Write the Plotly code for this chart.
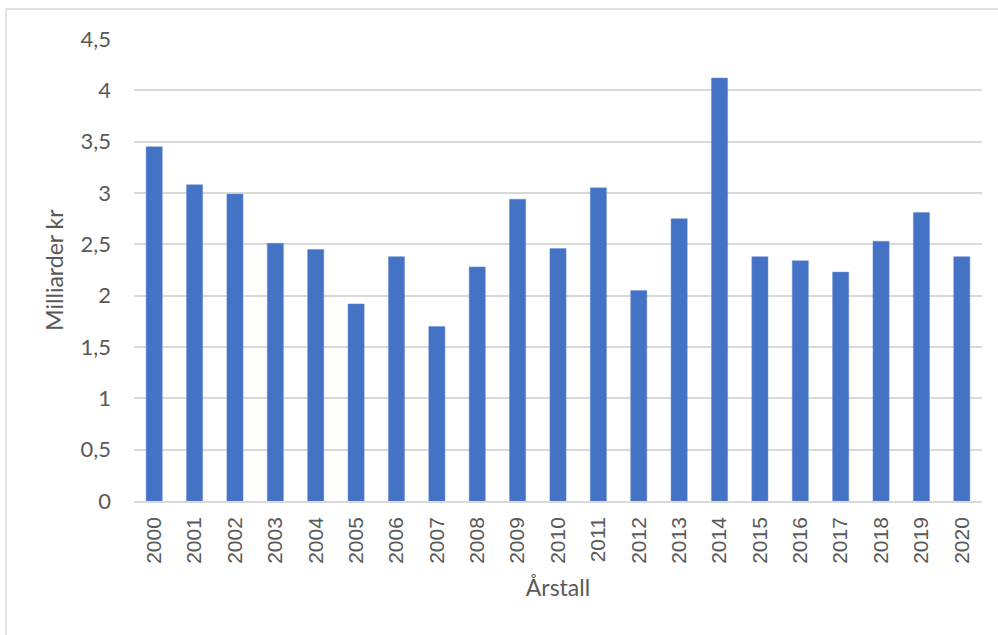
import plotly.graph_objects as go

years = [str(y) for y in range(2000, 2021)]
values = [3.45, 3.08, 2.99, 2.51, 2.45, 1.92, 2.38, 1.70, 2.28, 2.94, 2.46,
          3.05, 2.05, 2.75, 4.12, 2.38, 2.34, 2.23, 2.53, 2.81, 2.38]
y_tickvals = [0, 0.5, 1, 1.5, 2, 2.5, 3, 3.5, 4, 4.5]
y_ticktext = ["0", "0,5", "1", "1,5", "2", "2,5", "3", "3,5", "4", "4,5"]

grey = "#595959"
grid = "#d9d9d9"

fig = go.Figure(go.Bar(x=years, y=values, marker=dict(color="#4472C4",
                                                      line=dict(color="#6a8fd6", width=0.5))))

W, H = 998, 635
L, R, T, B = 134, 16, 39, 134
pw, ph = W - L - R, H - T - B

fig.update_layout(
    width=W, height=H,
    margin=dict(l=L, r=R, t=T, b=B, pad=0, autoexpand=False),
    paper_bgcolor="white", plot_bgcolor="white",
    bargap=0.6,
    showlegend=False,
    font=dict(family="Lato", color=grey),
    xaxis=dict(
        type="category",
        automargin=False,
        tickangle=-90,
        tickfont=dict(family="Liberation Sans", size=21, color=grey),
        showgrid=False,
        showline=True, linecolor=grid, linewidth=1.5,
        ticks="", ticklabelstandoff=6,
        title=dict(text="Årstall", font=dict(family="Lato", size=23, color=grey), standoff=17),
    ),
    yaxis=dict(
        range=[0, 4.5],
        automargin=False,
        tickvals=y_tickvals, ticktext=y_ticktext,
        tickfont=dict(family="Lato", size=22, color=grey),
        showgrid=True, gridcolor=grid, gridwidth=1.5,
        zeroline=False,
        showline=False,
        ticks="", ticklabelstandoff=22,
        title=dict(text="Milliarder kr", font=dict(family="Lato", size=23, color=grey), standoff=10),
    ),
    shapes=[dict(type="rect", xref="paper", yref="paper",
                 x0=(6 - L) / pw, x1=(W + 5 - L) / pw,
                 y0=-(H + 5 - (H - B)) / ph, y1=(H - B - 9) / ph,
                 line=dict(color=grid, width=1.5), fillcolor="rgba(0,0,0,0)", layer="below")],
)

fig.write_html("out.html", config={"displayModeBar": False},
               post_script="document.body.style.margin='0';")
